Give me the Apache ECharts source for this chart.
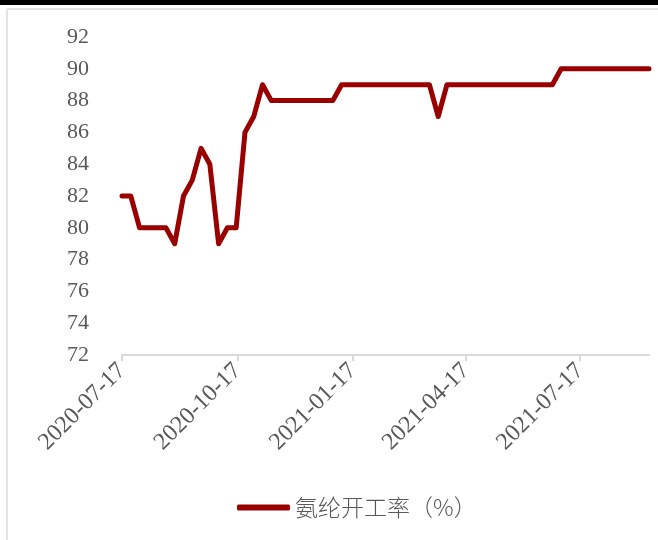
<!DOCTYPE html>
<html>
<head>
<meta charset="utf-8">
<script src="https://cdn.jsdelivr.net/npm/echarts@6/dist/echarts.min.js"></script>
<style>
  html, body { margin: 0; padding: 0; background: #fff; }
  #chart { width: 658px; height: 540px; }
</style>
</head>
<body>
<div id="chart"></div>
<script>
// Weekly spandex plant operating rate (%)
const dates = [
  '2020-07-17','2020-07-24','2020-07-31','2020-08-07','2020-08-14','2020-08-21','2020-08-28',
  '2020-09-04','2020-09-11','2020-09-18','2020-09-25','2020-10-02','2020-10-09','2020-10-16',
  '2020-10-23','2020-10-30','2020-11-06','2020-11-13','2020-11-20','2020-11-27','2020-12-04',
  '2020-12-11','2020-12-18','2020-12-25','2021-01-01','2021-01-08','2021-01-15','2021-01-22',
  '2021-01-29','2021-02-05','2021-02-12','2021-02-19','2021-02-26','2021-03-05','2021-03-12',
  '2021-03-19','2021-03-26','2021-04-02','2021-04-09','2021-04-16','2021-04-23','2021-04-30',
  '2021-05-07','2021-05-14','2021-05-21','2021-05-28','2021-06-04','2021-06-11','2021-06-18',
  '2021-06-25','2021-07-02','2021-07-09','2021-07-16','2021-07-23','2021-07-30','2021-08-06',
  '2021-08-13','2021-08-20','2021-08-27','2021-09-03','2021-09-10'
];
const operatingRate = [
  82, 82, 80, 80, 80, 80, 79,
  82, 83, 85, 84, 79, 80, 80,
  86, 87, 89, 88, 88, 88, 88,
  88, 88, 88, 88, 89, 89, 89,
  89, 89, 89, 89, 89, 89, 89,
  89, 87, 89, 89, 89, 89, 89,
  89, 89, 89, 89, 89, 89, 89,
  89, 90, 90, 90, 90, 90, 90,
  90, 90, 90, 90, 90
];
const xTickDates = ['2020-07-17', '2020-10-17', '2021-01-17', '2021-04-17', '2021-07-17'];
const yTicks = { min: 72, max: 92, step: 2 };
const seriesName = '氨纶开工率（%）';

// dates are placed on a numeric axis in days so the spacing follows the calendar
const DAY = 86400000;
function toDay(s) {
  const p = s.split('-').map(Number);
  return Math.round(Date.UTC(p[0], p[1] - 1, p[2]) / DAY);
}
function fmt(day) {
  const d = new Date(Math.round(day) * DAY);
  const pad = n => (n < 10 ? '0' : '') + n;
  return d.getUTCFullYear() + '-' + pad(d.getUTCMonth() + 1) + '-' + pad(d.getUTCDate());
}

const tickDays = xTickDates.map(toDay);
const seriesData = dates.map((d, i) => [toDay(d), operatingRate[i]]);

const textGray = '#595959';
const serif = '"Liberation Serif", "Times New Roman", serif';

const chart = echarts.init(document.getElementById('chart'), null, { renderer: 'canvas' });
chart.setOption({
  animation: false,
  backgroundColor: '#fff',
  graphic: [
    { type: 'rect', shape: { x: 0, y: 0, width: 658, height: 5 }, style: { fill: '#000' }, silent: true },
    { type: 'line', shape: { x1: 7, y1: 9, x2: 658, y2: 9 }, style: { stroke: '#e3e3e3', lineWidth: 2 }, silent: true },
    { type: 'line', shape: { x1: 7, y1: 9, x2: 7, y2: 540 }, style: { stroke: '#e3e3e3', lineWidth: 2 }, silent: true }
  ],
  grid: { left: 122, right: 9, top: 37, bottom: 185, containLabel: false },
  xAxis: {
    type: 'value',
    min: toDay(dates[0]),
    max: toDay(dates[dates.length - 1]),
    axisLine: { show: true, lineStyle: { color: '#d9d9d9', width: 2 } },
    axisTick: { show: true, length: 6, customValues: tickDays, lineStyle: { color: '#d9d9d9', width: 2 } },
    axisLabel: {
      customValues: tickDays,
      formatter: v => fmt(v),
      rotate: 45,
      margin: 12,
      color: textGray,
      fontFamily: serif,
      fontSize: 24,
      showMinLabel: true,
      showMaxLabel: true,
      hideOverlap: false
    },
    splitLine: { show: false }
  },
  yAxis: {
    type: 'value',
    min: yTicks.min,
    max: yTicks.max,
    interval: yTicks.step,
    axisLine: { show: false },
    axisTick: { show: false },
    splitLine: { show: false },
    axisLabel: { color: textGray, fontFamily: serif, fontSize: 22, margin: 33 }
  },
  legend: {
    show: true,
    left: 237,
    top: 496,
    padding: 0,
    icon: 'roundRect',
    itemWidth: 53,
    itemHeight: 6,
    itemGap: 0,
    textStyle: {
      color: textGray,
      fontFamily: '"Noto Sans CJK SC", sans-serif',
      fontWeight: 300,
      fontSize: 23
    },
    data: [{ name: seriesName, itemStyle: { color: '#990000' } }]
  },
  series: [{
    name: seriesName,
    type: 'line',
    data: seriesData,
    showSymbol: false,
    symbol: 'none',
    color: '#990000',
    lineStyle: { color: '#990000', width: 5, cap: 'round', join: 'round' }
  }]
});
</script>
</body>
</html>
